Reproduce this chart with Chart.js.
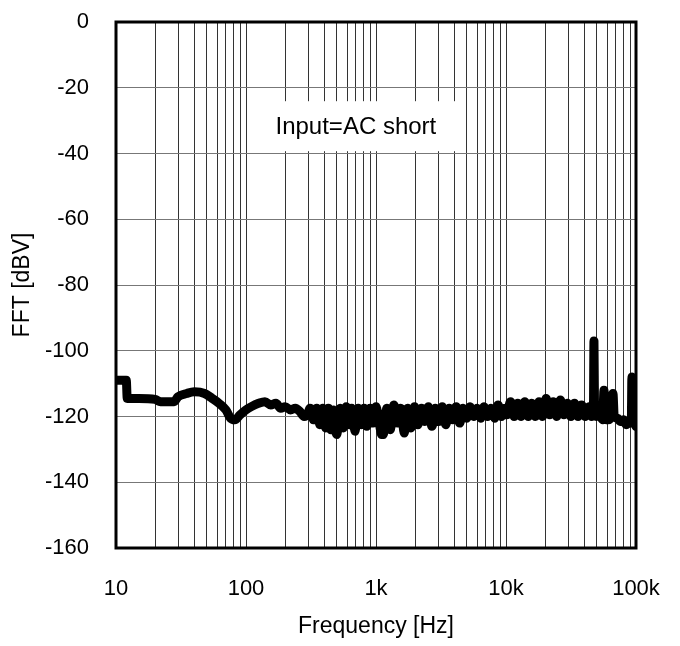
<!DOCTYPE html>
<html>
<head>
<meta charset="utf-8">
<script src="https://cdn.jsdelivr.net/npm/chart.js@4.4.1/dist/chart.umd.min.js"></script>
<style>
  html, body { margin: 0; padding: 0; background: #fff; }
  #wrap { width: 680px; height: 646px; }
</style>
</head>
<body>
<div id="wrap"><canvas id="fftChart" width="680" height="646"></canvas></div>
<script>
// --- Data ---
// 10 Hz .. 280 Hz (smooth part)
const freqLow = [
  10, 12, 12.2, 15, 20, 22, 28, 30, 35, 40, 48, 55, 62, 70, 76, 82, 90,
  100, 110, 125, 140, 155, 170, 185, 200, 220, 240, 260, 280
];
const fftLow = [
  -109, -109, -114.5, -114.5, -114.8, -115.5, -115.5, -114, -113, -112.5, -113, -114.5, -116, -118, -120.5, -121, -119.5,
  -118, -117, -116, -115.5, -116.5, -116, -117.5, -117, -118, -117.5, -118.5, -120
];
// 300 Hz .. 1 kHz
const freqMid1 = [
  300, 310, 320, 330, 340, 350, 360, 370, 380, 390,
  400, 410, 420, 430, 440, 450, 460, 470, 480, 490,
  500, 515, 530, 545, 560, 575, 590, 605, 620, 635,
  650, 670, 690, 710, 730, 750, 770, 790, 810, 830,
  850, 875, 900, 925, 950, 975
];
const fftMid1 = [
  -119, -117.5, -118, -121, -119, -117.5, -120, -122.5, -119, -117.5,
  -121, -123.5, -120, -117.5, -119, -124, -122, -118, -120, -124.5,
  -125.5, -121, -117.5, -119, -123.5, -120, -117, -118.5, -122.5, -120,
  -117.5, -121, -124.5, -120.5, -117.5, -119, -122.5, -119, -117.5, -120,
  -123, -119, -117.5, -121, -122, -118.5
];
// 1 kHz .. 10 kHz
const freqMid2 = [
  1000, 1035, 1070, 1105, 1140, 1175, 1210, 1250, 1290, 1330,
  1370, 1415, 1460, 1505, 1550, 1600, 1650, 1700, 1750, 1805,
  1860, 1920, 1980, 2040, 2100, 2170, 2240, 2310, 2380, 2455,
  2530, 2610, 2690, 2775, 2860, 2950, 3040, 3135, 3230, 3335,
  3440, 3550, 3660, 3775, 3890, 4015, 4140, 4270, 4400, 4540,
  4680, 4830, 4980, 5140, 5300, 5470, 5640, 5820, 6000, 6190,
  6380, 6580, 6790, 7000, 7220, 7450, 7680, 7920, 8170, 8430,
  8690, 8960, 9240, 9530, 9830
];
const fftMid2 = [
  -117, -119.5, -123, -125.5, -125.5, -121, -117.5, -120.5, -124, -120,
  -116.5, -118.5, -122, -120, -117.5, -121.5, -125, -121, -117.5, -120.5,
  -123.5, -119.5, -117, -119.5, -122.5, -120, -117.5, -119, -121.5, -118.5,
  -117, -120.5, -123, -121, -117.5, -119, -121.5, -119, -117, -120,
  -122.5, -120, -117.5, -119, -121, -118.5, -117, -119.5, -122, -120,
  -117.5, -119, -120.5, -118.5, -117, -118.5, -120, -118.5, -117.5, -119,
  -120.5, -118.5, -117, -118.5, -120, -118.5, -117.5, -119, -120.5, -118,
  -116.5, -118, -120, -118.5, -117.5
];
// 10 kHz .. 46.5 kHz
const freqHigh = [
  10150, 10500, 10850, 11200, 11550, 11900, 12300, 12700, 13100, 13500,
  13950, 14400, 14850, 15300, 15800, 16300, 16850, 17400, 17950, 18500,
  19100, 19700, 20350, 21000, 21700, 22400, 23100, 23800, 24600, 25400,
  26200, 27000, 27900, 28800, 29700, 30600, 31600, 32600, 33650, 34700,
  35850, 37000, 38200, 39400, 40700, 42000, 43350, 44700, 45600, 46500
];
const fftHigh = [
  -119.5, -117, -115.5, -117.5, -120, -118, -116, -118.5, -120, -117,
  -115.5, -117.5, -120, -118.5, -116, -117, -120, -118, -115.5, -117.5,
  -120, -117, -114.5, -116.5, -119.5, -118, -115.5, -117.5, -120, -117,
  -115, -117, -119.5, -118, -116, -118, -120, -117.5, -116, -118.5,
  -120, -117, -116.5, -118.5, -120, -118, -117, -119, -120, -119.5
];
// 47 kHz .. 100 kHz (spurs)
const freqTop = [
  47000, 47500, 48000, 49500, 51000, 53500, 55500, 56700, 58000, 61000,
  64000, 66500, 68000, 72000, 76000, 80000, 84000, 88000, 92000, 93000,
  94000, 97000, 100000
];
const fftTop = [
  -119.5, -97, -119.5, -120, -119, -120, -121, -112, -120.5, -121,
  -120, -113, -120, -120.5, -121.5, -121, -122.5, -122, -122, -108,
  -121, -122, -123
];

const freqHz = [...freqLow, ...freqMid1, ...freqMid2, ...freqHigh, ...freqTop];
const fftDbv = [...fftLow, ...fftMid1, ...fftMid2, ...fftHigh, ...fftTop];

const freqGrid = [
  10, 20, 30, 40, 50, 60, 70, 80, 90,
  100, 200, 300, 400, 500, 600, 700, 800, 900,
  1000, 2000, 3000, 4000, 5000, 6000, 7000, 8000, 9000,
  10000, 20000, 30000, 40000, 50000, 60000, 70000, 80000, 90000, 100000
];
const decadeLabels = { 10: '10', 100: '100', 1000: '1k', 10000: '10k', 100000: '100k' };
const noteText = 'Input=AC short';
const notePos = { x: 700, y: -32 };

const FAMILY = "'Liberation Sans', Arial, sans-serif";
const TICK_FONT = { family: FAMILY, size: 22 };
const TITLE_FONT = { family: FAMILY, size: 23 };

// frame around the plot area + the note box
const framePlugin = {
  id: 'frame',
  beforeDatasetsDraw(chart) {
    const { ctx, scales } = chart;
    const cx = scales.x.getPixelForValue(notePos.x);
    const cy = scales.y.getPixelForValue(notePos.y);
    ctx.save();
    ctx.fillStyle = '#fff';
    ctx.fillRect(cx - 93, cy - 26, 200, 50);
    ctx.fillStyle = '#000';
    ctx.font = `24px ${FAMILY}`;
    ctx.textAlign = 'center';
    ctx.textBaseline = 'middle';
    ctx.fillText(noteText, cx, cy);
    ctx.restore();
  },
  afterDraw(chart) {
    const { ctx, chartArea: a } = chart;
    ctx.save();
    ctx.strokeStyle = '#000';
    ctx.lineWidth = 3;
    ctx.strokeRect(a.left, a.top, a.right - a.left, a.bottom - a.top);
    ctx.restore();
  }
};

const ctx = document.getElementById('fftChart').getContext('2d');
const fftChart = new Chart(ctx, {
  type: 'line',
  data: {
    datasets: [{
      data: freqHz.map((f, i) => ({ x: f, y: fftDbv[i] })),
      borderColor: '#000',
      borderWidth: 9,
      borderJoinStyle: 'round',
      borderCapStyle: 'round',
      pointRadius: 0,
      cubicInterpolationMode: 'monotone',
      fill: false
    }]
  },
  options: {
    responsive: false,
    animation: false,
    layout: { padding: { left: 0, right: 44, top: 22, bottom: 0 } },
    plugins: { legend: { display: false }, tooltip: { enabled: false } },
    scales: {
      x: {
        type: 'logarithmic',
        min: 10,
        max: 100000,
        afterBuildTicks: (scale) => { scale.ticks = freqGrid.map(v => ({ value: v })); },
        afterFit: (scale) => { scale.height = 98; },
        ticks: {
          autoSkip: false,
          maxRotation: 0,
          padding: 0,
          color: '#000',
          font: TICK_FONT,
          callback: (v) => decadeLabels[v] || ''
        },
        // invisible tick marks push the labels away from the axis
        grid: { color: '#333', lineWidth: 1, drawTicks: true, tickLength: 28, tickColor: 'rgba(0,0,0,0)' },
        border: { display: false },
        title: { display: true, text: 'Frequency [Hz]', color: '#000', font: TITLE_FONT, padding: { top: 0, bottom: 6 } }
      },
      y: {
        min: -160,
        max: 0,
        afterFit: (scale) => { scale.width = 116; },
        ticks: { stepSize: 20, padding: 0, color: '#000', font: TICK_FONT },
        grid: { color: '#777', lineWidth: 1, drawTicks: true, tickLength: 27, tickColor: 'rgba(0,0,0,0)' },
        border: { display: false },
        title: { display: true, text: 'FFT [dBV]', color: '#000', font: TITLE_FONT, padding: { top: 9, bottom: 0 } }
      }
    }
  },
  plugins: [framePlugin]
});
</script>
</body>
</html>
